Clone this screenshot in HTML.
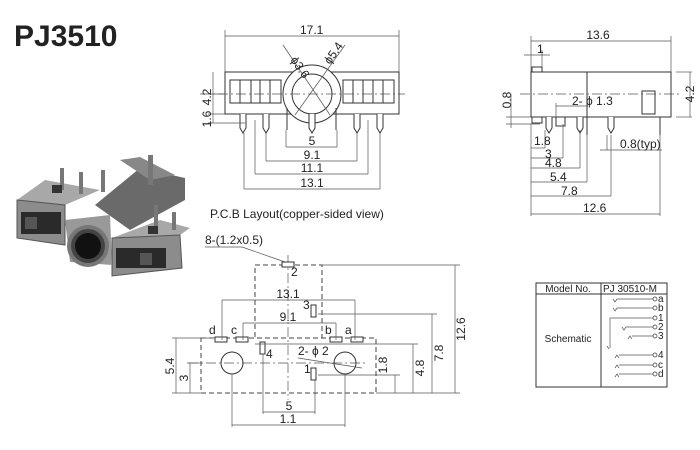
<!DOCTYPE html>
<html><head><meta charset="utf-8"><style>
body{margin:0;background:#fff}
svg{display:block}
text{font-family:"Liberation Sans",sans-serif;fill:#222}
.l{stroke:#333;stroke-width:1;fill:none}
.t{stroke:#555;stroke-width:.7;fill:none}
.d{stroke:#444;stroke-width:1;fill:none;stroke-dasharray:5,3}
.c{stroke:#555;stroke-width:.7;fill:none;stroke-dasharray:10,3,2,3}
</style></head><body>
<svg width="700" height="450" viewBox="0 0 700 450" xmlns="http://www.w3.org/2000/svg">
<text x="14" y="46" font-size="30" font-weight="bold" fill="#111">PJ3510</text>

<!-- photo -->
<g>
<polygon points="95,205 140,168 185,178 185,200 130,230" fill="#6a6a6a"/>
<polygon points="120,160 140,157 175,175 150,180" fill="#888"/>
<polygon points="17,200 45,180 100,190 65,205" fill="#a8a8a8"/>
<polygon points="17,200 65,205 65,245 17,238" fill="#8c8c8c" stroke="#555"/>
<rect x="21" y="212" width="40" height="22" fill="#2a2a2a"/>
<rect x="25" y="217" width="12" height="12" fill="#555"/>
<polygon points="112,238 160,220 190,228 180,235" fill="#a8a8a8"/>
<polygon points="112,238 180,235 182,268 112,276" fill="#8c8c8c" stroke="#555"/>
<rect x="116" y="248" width="50" height="20" fill="#2a2a2a"/>
<rect x="140" y="253" width="12" height="12" fill="#555"/>
<polygon points="65,220 110,215 112,265 70,262" fill="#999"/>
<circle cx="88" cy="246" r="21" fill="#777"/><circle cx="88" cy="246" r="17" fill="#444"/><circle cx="88" cy="246" r="13" fill="#111"/>
<rect x="60" y="168" width="4" height="22" fill="#777"/><rect x="79" y="172" width="4" height="22" fill="#777"/>
<rect x="101" y="170" width="4" height="22" fill="#777"/><rect x="148" y="155" width="5" height="30" fill="#777"/>
<rect x="154" y="205" width="4" height="22" fill="#777"/><rect x="172" y="212" width="4" height="18" fill="#777"/>
<rect x="52" y="185" width="10" height="8" fill="#333"/><rect x="148" y="226" width="10" height="8" fill="#333"/>
</g>

<!-- front view -->
<g>
<line class="t" x1="225" y1="36" x2="399" y2="36"/><line class="t" x1="225" y1="30" x2="225" y2="72"/><line class="t" x1="399" y1="30" x2="399" y2="72"/>
<text x="300" y="34" font-size="12">17.1</text>
<rect class="l" x="225" y="72" width="174" height="42"/>
<rect class="l" x="230" y="80" width="51" height="23"/><line class="l" x1="240" y1="80" x2="240" y2="103"/><line class="l" x1="251" y1="80" x2="251" y2="103"/><line class="l" x1="260" y1="80" x2="260" y2="103"/><line class="l" x1="270" y1="80" x2="270" y2="103"/>
<rect class="l" x="343" y="80" width="51" height="23"/><line class="l" x1="353" y1="80" x2="353" y2="103"/><line class="l" x1="363" y1="80" x2="363" y2="103"/><line class="l" x1="373" y1="80" x2="373" y2="103"/><line class="l" x1="383" y1="80" x2="383" y2="103"/>
<circle cx="312" cy="94" r="29" fill="#fff" stroke="#333"/><circle class="l" cx="312" cy="94" r="20"/>
<line class="t" x1="283" y1="45" x2="330" y2="115"/><line class="t" x1="345" y1="45" x2="295" y2="115"/>
<text x="290" y="60" font-size="12" transform="rotate(55 290 60)">ϕ3.6</text>
<text x="330" y="65" font-size="12" transform="rotate(-55 330 65)">ϕ5.4</text>
<line class="c" x1="200" y1="94" x2="405" y2="94"/>
<g fill="#fff" stroke="#333">
<path d="M240 114v14l3 5 3-5v-14"/><path d="M263 114v14l3 5 3-5v-14"/><path d="M309 114v14l3 5 3-5v-14"/>
<path d="M354 114v14l3 5 3-5v-14"/><path d="M377 114v14l3 5 3-5v-14"/></g>
<line class="l" x1="287" y1="108" x2="287" y2="130"/><line class="l" x1="336" y1="108" x2="336" y2="130"/>
<line class="t" x1="213" y1="72" x2="213" y2="123"/><line class="t" x1="208" y1="94" x2="225" y2="94"/><line class="t" x1="208" y1="114" x2="225" y2="114"/><line class="t" x1="208" y1="123" x2="245" y2="123"/>
<text x="211" y="97" font-size="12" transform="rotate(-90 211 97)" text-anchor="middle">4.2</text>
<text x="211" y="119" font-size="12" transform="rotate(-90 211 119)" text-anchor="middle">1.6</text>
<line class="t" x1="286" y1="130" x2="286" y2="147"/><line class="t" x1="337" y1="130" x2="337" y2="147"/><line class="t" x1="286" y1="147" x2="337" y2="147"/>
<line class="t" x1="266" y1="133" x2="266" y2="161"/><line class="t" x1="357" y1="133" x2="357" y2="161"/><line class="t" x1="266" y1="161" x2="357" y2="161"/>
<line class="t" x1="255" y1="120" x2="255" y2="174"/><line class="t" x1="368" y1="120" x2="368" y2="174"/><line class="t" x1="255" y1="174" x2="368" y2="174"/>
<line class="t" x1="244" y1="133" x2="244" y2="189"/><line class="t" x1="380" y1="133" x2="380" y2="189"/><line class="t" x1="244" y1="189" x2="380" y2="189"/>
<text x="312" y="145" font-size="12" text-anchor="middle">5</text>
<text x="312" y="159" font-size="12" text-anchor="middle">9.1</text>
<text x="312" y="172" font-size="12" text-anchor="middle">11.1</text>
<text x="312" y="187" font-size="12" text-anchor="middle">13.1</text>
<text x="210" y="218" font-size="12">P.C.B Layout(copper-sided view)</text>
</g>

<!-- side view -->
<g>
<line class="t" x1="531" y1="41" x2="671" y2="41"/><line class="t" x1="531" y1="36" x2="531" y2="72"/><line class="t" x1="671" y1="36" x2="671" y2="72"/>
<text x="598" y="39" font-size="12" text-anchor="middle">13.6</text>
<line class="t" x1="524" y1="55" x2="550" y2="55"/><line class="t" x1="542" y1="50" x2="542" y2="67"/>
<text x="537" y="53" font-size="12">1</text>
<rect class="l" x="532" y="67" width="10" height="5"/>
<rect class="l" x="531" y="72" width="140" height="45"/>
<line class="l" x1="587" y1="72" x2="587" y2="135"/>
<rect class="l" x="642" y="91" width="13" height="23"/>
<line class="c" x1="520" y1="94" x2="680" y2="94"/>
<line class="t" x1="511" y1="94" x2="511" y2="128"/><line class="t" x1="506" y1="117" x2="540" y2="117"/><line class="t" x1="506" y1="124" x2="540" y2="124"/>
<text x="511" y="100" font-size="12" transform="rotate(-90 511 100)" text-anchor="middle">0.8</text>
<line class="t" x1="676" y1="72" x2="692" y2="72"/><line class="t" x1="676" y1="117" x2="692" y2="117"/><line class="t" x1="690" y1="72" x2="690" y2="117"/>
<text x="694" y="94" font-size="12" transform="rotate(-90 694 94)" text-anchor="middle">4.2</text>
<line class="t" x1="556" y1="106" x2="588" y2="106"/><line class="t" x1="556" y1="103" x2="556" y2="117"/>
<text x="572" y="105" font-size="12">2- ϕ 1.3</text>
<g fill="#fff" stroke="#333"><rect x="532" y="117" width="10" height="6"/><rect x="556" y="117" width="9" height="9"/>
<path d="M546 117v11l3 5 3-5v-11"/><path d="M577 117v11l3 5 3-5v-11"/><path d="M608 117v11l3 5 3-5v-11"/></g>
<line class="l" x1="660" y1="117" x2="660" y2="135"/>
<line class="t" x1="531" y1="124" x2="531" y2="216"/>
<line class="t" x1="531" y1="148" x2="545" y2="148"/><line class="t" x1="545" y1="130" x2="545" y2="148"/>
<line class="t" x1="531" y1="158" x2="563" y2="158"/><line class="t" x1="563" y1="124" x2="563" y2="158"/>
<line class="t" x1="531" y1="168" x2="580" y2="168"/><line class="t" x1="580" y1="130" x2="580" y2="168"/>
<line class="t" x1="531" y1="182" x2="587" y2="182"/><line class="t" x1="587" y1="135" x2="587" y2="182"/>
<line class="t" x1="531" y1="196" x2="611" y2="196"/><line class="t" x1="611" y1="135" x2="611" y2="196"/>
<line class="t" x1="531" y1="214" x2="660" y2="214"/><line class="t" x1="660" y1="135" x2="660" y2="216"/>
<line class="t" x1="600" y1="150" x2="662" y2="150"/><line class="t" x1="607" y1="135" x2="607" y2="150"/>
<text x="534" y="145" font-size="12">1.8</text><text x="545" y="158" font-size="12">3</text>
<text x="545" y="167" font-size="12">4.8</text><text x="550" y="181" font-size="12">5.4</text>
<text x="561" y="195" font-size="12">7.8</text><text x="583" y="212" font-size="12">12.6</text>
<text x="620" y="148" font-size="12">0.8(typ)</text>
</g>

<!-- PCB layout -->
<g>
<text x="205" y="244" font-size="12">8-(1.2x0.5)</text>
<line class="t" x1="205" y1="247" x2="242" y2="247"/><line class="t" x1="242" y1="247" x2="285" y2="262"/>
<rect class="d" x="255" y="265" width="67" height="73"/>
<rect class="d" x="201" y="338" width="175" height="55"/>
<line class="c" x1="288" y1="255" x2="288" y2="400"/>
<line class="c" x1="188" y1="363" x2="365" y2="363"/>
<circle class="l" cx="232" cy="363" r="11"/><circle class="l" cx="345" cy="363" r="11"/>
<g fill="#fff" stroke="#333"><rect x="282" y="262" width="12" height="5"/><rect x="215" y="337" width="12" height="5"/><rect x="236" y="337" width="12" height="5"/>
<rect x="330" y="337" width="12" height="5"/><rect x="351" y="337" width="12" height="5"/>
<rect x="311" y="305" width="5" height="12"/><rect x="260" y="342" width="5" height="12"/><rect x="311" y="368" width="5" height="12"/></g>
<text x="291" y="276" font-size="12">2</text><text x="303" y="309" font-size="12">3</text><text x="266" y="358" font-size="12">4</text><text x="304" y="373" font-size="12">1</text>
<text x="209" y="334" font-size="12">d</text><text x="231" y="334" font-size="12">c</text><text x="325" y="334" font-size="12">b</text><text x="345" y="334" font-size="12">a</text>
<line class="t" x1="222" y1="300" x2="355" y2="300"/><line class="t" x1="222" y1="300" x2="222" y2="340"/><line class="t" x1="355" y1="300" x2="355" y2="340"/>
<text x="288" y="298" font-size="12" text-anchor="middle">13.1</text>
<line class="t" x1="243" y1="323" x2="336" y2="323"/><line class="t" x1="243" y1="323" x2="243" y2="340"/><line class="t" x1="336" y1="323" x2="336" y2="340"/>
<text x="288" y="321" font-size="12" text-anchor="middle">9.1</text>
<text x="298" y="355" font-size="12">2- ϕ 2</text><line class="t" x1="298" y1="358" x2="362" y2="368"/>
<line class="t" x1="322" y1="265" x2="460" y2="265"/><line class="t" x1="318" y1="314" x2="437" y2="314"/><line class="t" x1="255" y1="344" x2="418" y2="344"/><line class="t" x1="318" y1="375" x2="400" y2="375"/>
<line class="t" x1="376" y1="393" x2="460" y2="393"/>
<line class="t" x1="455" y1="265" x2="455" y2="393"/><line class="t" x1="432" y1="314" x2="432" y2="393"/><line class="t" x1="413" y1="344" x2="413" y2="393"/><line class="t" x1="395" y1="375" x2="395" y2="393"/>
<text x="465" y="329" font-size="12" transform="rotate(-90 465 329)" text-anchor="middle">12.6</text>
<text x="443" y="353" font-size="12" transform="rotate(-90 443 353)" text-anchor="middle">7.8</text>
<text x="424" y="368" font-size="12" transform="rotate(-90 424 368)" text-anchor="middle">4.8</text>
<text x="387" y="365" font-size="12" transform="rotate(-90 387 365)" text-anchor="middle">1.8</text>
<line class="t" x1="172" y1="338" x2="215" y2="338"/><line class="t" x1="172" y1="393" x2="201" y2="393"/><line class="t" x1="176" y1="338" x2="176" y2="393"/>
<line class="t" x1="187" y1="363" x2="201" y2="363"/><line class="t" x1="190" y1="363" x2="190" y2="393"/>
<text x="174" y="366" font-size="12" transform="rotate(-90 174 366)" text-anchor="middle">5.4</text>
<text x="188" y="378" font-size="12" transform="rotate(-90 188 378)" text-anchor="middle">3</text>
<line class="t" x1="263" y1="354" x2="263" y2="414"/><line class="t" x1="315" y1="380" x2="315" y2="414"/><line class="t" x1="263" y1="412" x2="315" y2="412"/>
<text x="289" y="410" font-size="12" text-anchor="middle">5</text>
<line class="t" x1="232" y1="374" x2="232" y2="427"/><line class="t" x1="345" y1="374" x2="345" y2="427"/><line class="t" x1="232" y1="425" x2="345" y2="425"/>
<text x="288" y="423" font-size="12" text-anchor="middle">1.1</text>
</g>

<!-- schematic table -->
<g font-size="10">
<rect x="536" y="283" width="131" height="104" fill="none" stroke="#333"/>
<line class="l" x1="536" y1="294" x2="667" y2="294"/><line class="l" x1="601" y1="283" x2="601" y2="387"/>
<text x="568" y="292" font-size="10" text-anchor="middle">Model No.</text>
<text x="603" y="292" font-size="10">PJ 30510-M</text>
<text x="568" y="342" font-size="10" text-anchor="middle">Schematic</text>
<g class="t" stroke="#444">
<path d="M613 299l2 3 2-3"/><line x1="617" y1="299" x2="653" y2="299"/>
<path d="M613 308l2 3 2-3"/><line x1="617" y1="308" x2="653" y2="308"/>
<path d="M610 348v-30h43"/><path d="M607 346l2 3"/>
<path d="M622 327l2 3 2-3"/><line x1="626" y1="327" x2="653" y2="327"/>
<path d="M628 339l2-3 2 3"/><line x1="632" y1="336" x2="653" y2="336"/>
<path d="M615 358l2-3 2 3"/><line x1="619" y1="355" x2="653" y2="355"/>
<path d="M615 368l2-3 2 3"/><line x1="619" y1="365" x2="653" y2="365"/>
<path d="M615 377l2-3 2 3"/><line x1="619" y1="374" x2="653" y2="374"/>
</g>
<g fill="none" stroke="#333" stroke-width=".7"><circle cx="655" cy="299" r="2"/><circle cx="655" cy="308" r="2"/><circle cx="655" cy="318" r="2"/><circle cx="655" cy="327" r="2"/><circle cx="655" cy="336" r="2"/><circle cx="655" cy="355" r="2"/><circle cx="655" cy="365" r="2"/><circle cx="655" cy="374" r="2"/></g>
<text x="658" y="302" font-size="10">a</text><text x="658" y="311" font-size="10">b</text><text x="658" y="321" font-size="10">1</text><text x="658" y="330" font-size="10">2</text><text x="658" y="339" font-size="10">3</text><text x="658" y="358" font-size="10">4</text><text x="658" y="368" font-size="10">c</text><text x="658" y="377" font-size="10">d</text>
</g>
</svg>
</body></html>
